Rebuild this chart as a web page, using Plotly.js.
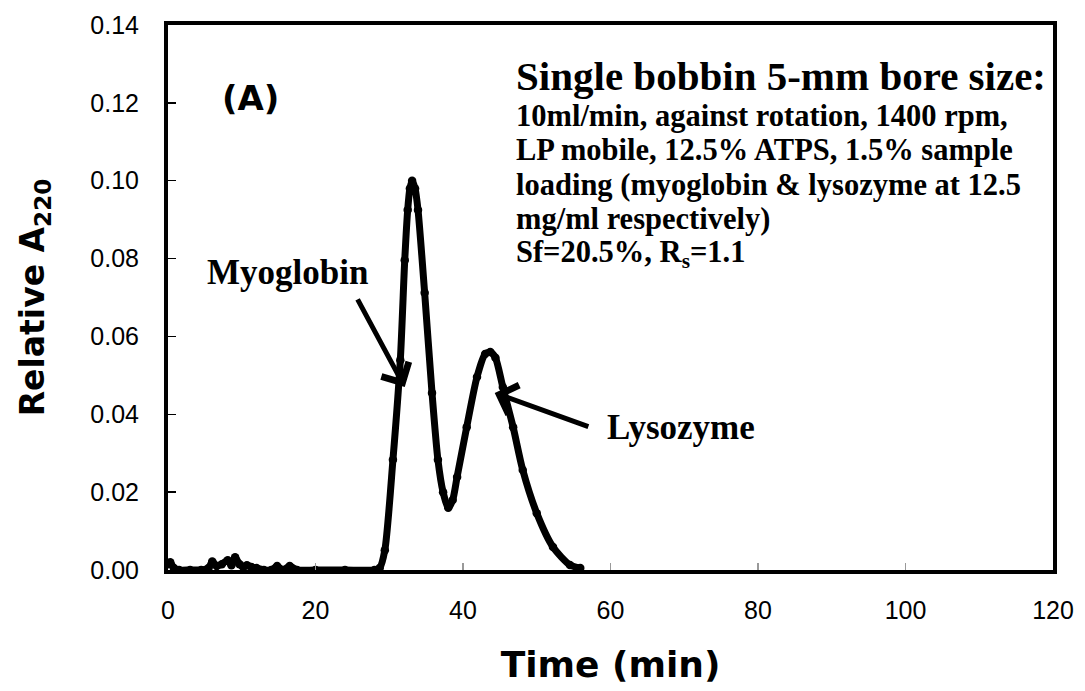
<!DOCTYPE html>
<html>
<head>
<meta charset="utf-8">
<script src="https://cdn.plot.ly/plotly-3.0.1.min.js"></script>
<style>html,body{margin:0;padding:0;background:#fff;}#chart{width:1085px;height:691px;}</style>
</head>
<body>
<div id="chart"></div>
<script>
// Chromatogram (A): time (min) vs relative A220
const timeMin = [0, 0.3, 0.8, 1.5, 3, 4.5, 5.5, 6.0, 6.6, 7.3, 8.1, 8.6, 9.1, 9.7, 10.2, 10.7, 11.3, 12.0, 13.0, 14.0, 14.8, 15.6, 16.5, 17.5, 20, 24, 28,
  28.7, 29.4, 30.5, 31.5, 32.1, 32.5, 32.8, 33.1, 33.5, 33.9, 34.8, 35.8, 36.6, 37.3, 38.0, 38.6, 39.2, 40.5, 41.9, 43.0, 43.7, 44.4, 45.4, 46.8, 48.1, 50.0, 52.2, 54.5, 55.9];
const relA220 = [0.0015, 0.002, 0.0005, 0, 0, 0, 0.0005, 0.0022, 0.001, 0.0015, 0.0025, 0.0012, 0.0033, 0.0015, 0.0008, 0.0012, 0.0008, 0.0005, 0, 0, 0.001, 0, 0.001, 0, 0, 0, 0,
  0.0005, 0.0051, 0.0283, 0.0539, 0.0796, 0.0925, 0.098, 0.1000, 0.098, 0.0925, 0.0712, 0.0455, 0.0283, 0.020, 0.016, 0.018, 0.0239, 0.0367, 0.0496, 0.0555, 0.056, 0.0545, 0.047, 0.0367, 0.0257, 0.0146, 0.0059, 0.0013, 0.0005];

const xTicks = [0, 20, 40, 60, 80, 100, 120];
const yTicks = [0, 0.02, 0.04, 0.06, 0.08, 0.10, 0.12, 0.14];

const infoTitle = 'Single bobbin 5-mm bore size:';
const infoLines = ['10ml/min, against rotation, 1400 rpm,',
  'LP mobile, 12.5% ATPS, 1.5% sample',
  'loading (myoglobin &amp; lysozyme at 12.5',
  'mg/ml respectively)',
  'Sf=20.5%, R<sub>s</sub>=1.1'];

// peak labels: [text, label x, label y, arrow tip x, arrow tip y, arrow tail x, arrow tail y]
const peakLabels = [
  ['Myoglobin', 5.0, 0.0765, 32.1, 0.047, 25.6, 0.0699],
  ['Lysozyme', 59.3, 0.0365, 44.3, 0.0455, 57.2, 0.0367]
];

const serif = 'Liberation Serif, Times New Roman, serif';
const sans = 'Liberation Sans, Arial, sans-serif';
const heavy = 'DejaVu Sans, Arial Black, sans-serif';

const annotations = [];
annotations.push({x: 0.059, y: 0.866, xref: 'paper', yref: 'paper', text: '<b>(A)</b>', showarrow: false,
  xanchor: 'left', yanchor: 'middle', font: {family: heavy, size: 34, color: '#000'}});
annotations.push({x: 0.391, y: 0.906, xref: 'paper', yref: 'paper', text: '<b>' + infoTitle + '</b>', showarrow: false,
  xanchor: 'left', yanchor: 'middle', font: {family: serif, size: 41, color: '#000'}});
infoLines.forEach((t, i) => {
  annotations.push({x: 0.391, y: 0.833 - i * 0.0632, xref: 'paper', yref: 'paper', text: '<b>' + t + '</b>', showarrow: false,
    xanchor: 'left', yanchor: 'middle', font: {family: serif, size: 30.5, color: '#000'}});
});
peakLabels.forEach(p => {
  annotations.push({x: p[1], y: p[2], xref: 'x', yref: 'y', text: '<b>' + p[0] + '</b>', showarrow: false,
    xanchor: 'left', yanchor: 'middle', font: {family: serif, size: 35, color: '#000'}});
  annotations.push({x: p[3], y: p[4], xref: 'x', yref: 'y', ax: p[5], ay: p[6], axref: 'x', ayref: 'y',
    text: '', showarrow: true, arrowhead: 4, arrowsize: 1.2, arrowwidth: 5, arrowcolor: '#000'});
});

const trace = {
  x: timeMin, y: relA220, type: 'scatter', mode: 'lines+markers',
  line: {color: '#000', width: 7, shape: 'spline', smoothing: 0.7},
  marker: {color: '#000', size: 8.5},
  hoverinfo: 'x+y'
};

const layout = {
  width: 1085, height: 691,
  margin: {l: 168, r: 32, t: 25, b: 121},
  paper_bgcolor: '#fff', plot_bgcolor: '#fff',
  showlegend: false,
  xaxis: {
    range: [0, 120], tickvals: xTicks, ticktext: xTicks.map(String),
    showgrid: false, zeroline: false,
    showline: true, mirror: true, linecolor: '#000', linewidth: 4,
    ticks: 'inside', ticklen: 7, tickwidth: 1.5, tickcolor: '#999',
    ticklabelstandoff: 15,
    tickfont: {family: sans, size: 25, color: '#000'},
    title: {text: '<b>Time (min)</b>', font: {family: heavy, size: 36, color: '#000'}, standoff: 30}
  },
  yaxis: {
    range: [0, 0.14], tickvals: yTicks, ticktext: yTicks.map(v => v.toFixed(2)),
    showgrid: false, zeroline: false,
    showline: true, mirror: true, linecolor: '#000', linewidth: 4,
    ticks: 'inside', ticklen: 8, tickwidth: 1.5, tickcolor: '#000',
    ticklabelstandoff: 20,
    tickfont: {family: sans, size: 25, color: '#000'},
    title: {text: '<b>Relative A<sub>220</sub></b>', font: {family: heavy, size: 33, color: '#000'}, standoff: 37}
  },
  annotations: annotations
};

Plotly.newPlot('chart', [trace], layout, {displayModeBar: false, staticPlot: true});
</script>
</body>
</html>
